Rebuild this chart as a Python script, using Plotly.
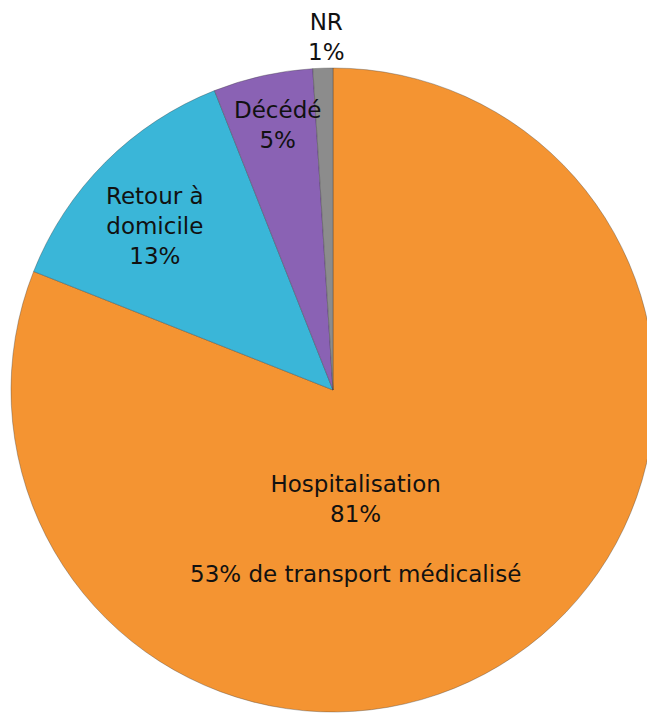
import plotly.graph_objects as go

labels = ["Hospitalisation", "Retour à<br>domicile", "Décédé", "NR"]
values = [81, 13, 5, 1]
colors = ["#F49432", "#3AB6D8", "#8A62B4", "#8C8C8C"]
extra = ["<br><br>53% de transport médicalisé", "", "", ""]

# label placement (paper coords) for each slice
label_xy = [(0.530, 0.274), (0.224, 0.696), (0.412, 0.837), (0.486, 1.0)]
label_anchor = ["middle", "middle", "middle", "top"]

fig = go.Figure(go.Pie(
    labels=labels,
    values=values,
    sort=False,
    direction="clockwise",
    rotation=0,
    marker=dict(colors=colors, line=dict(color="rgba(60,60,60,0.35)", width=1)),
    textinfo="none",
    hoverinfo="label+percent",
    domain=dict(x=[3 / 655, 647 / 655], y=[14 / 718, 658 / 718]),
    showlegend=False,
))

for lab, val, ext, (x, y), ya in zip(labels, values, extra, label_xy, label_anchor):
    fig.add_annotation(
        x=x, y=y, xref="paper", yref="paper",
        xanchor="center", yanchor=ya,
        text=f"{lab}<br>{val}%{ext}",
        showarrow=False, align="center", borderpad=0,
        font=dict(family="DejaVu Sans", size=23, color="#111111"),
    )

fig.update_layout(
    width=655, height=718,
    margin=dict(l=0, r=0, t=0, b=0),
    paper_bgcolor="white",
)

fig.write_html("out.html")
